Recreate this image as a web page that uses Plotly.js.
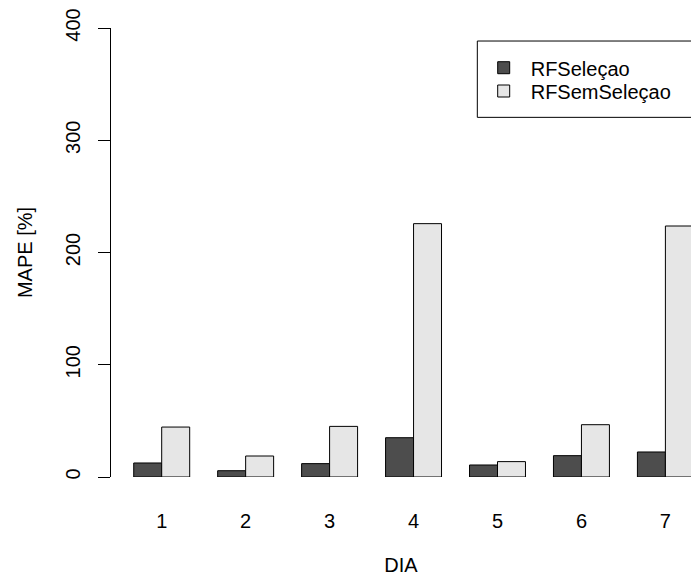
<!DOCTYPE html>
<html>
<head>
<meta charset="utf-8">
<script src="https://cdn.plot.ly/plotly-3.0.1.min.js"></script>
<style>html,body{margin:0;padding:0;background:#fff;}#chart{width:691px;height:576px;}</style>
</head>
<body>
<div id="chart"></div>
<script>
const days = [1, 2, 3, 4, 5, 6, 7];
const dayLabels = ["1", "2", "3", "4", "5", "6", "7"];
const rfSelecao = [12.5, 5.6, 11.9, 35.0, 10.7, 19.0, 22.3];
const rfSemSelecao = [44.5, 18.7, 45.1, 225.7, 13.7, 46.6, 223.6];
const seriesNames = ["RFSeleçao", "RFSemSeleçao"];
const yTicks = [0, 100, 200, 300, 400];

const font = "Liberation Sans, Arial, Helvetica, sans-serif";

const traces = [
  {type: "bar", x: days, y: rfSelecao, name: seriesNames[0], legend: "legend",
   marker: {color: "#4d4d4d", line: {color: "#000", width: 1}}, hoverinfo: "none"},
  {type: "bar", x: days, y: rfSemSelecao, name: seriesNames[1], legend: "legend2",
   marker: {color: "#e6e6e6", line: {color: "#000", width: 1}}, hoverinfo: "none"}
];

const legendBase = {
  xanchor: "left", yanchor: "top",
  bgcolor: "rgba(0,0,0,0)", borderwidth: 0,
  font: {size: 20}, itemwidth: 44
};

const layout = {
  width: 691, height: 576,
  margin: {l: 111, r: 0, t: 28, b: 99, pad: 0},
  paper_bgcolor: "#fff", plot_bgcolor: "#fff",
  font: {family: font, size: 20, color: "#000"},
  barmode: "group", bargap: 1/3, bargroupgap: 0,
  xaxis: {
    range: [0.396, 7.305], tickvals: days, ticktext: dayLabels,
    showline: false, showgrid: false, zeroline: false,
    ticks: "", ticklabelstandoff: 30,
    tickfont: {size: 20},
    title: {text: "DIA", font: {size: 20}, standoff: 27}
  },
  yaxis: {
    range: [0, 400], tickvals: yTicks, ticktext: yTicks.map(String),
    showline: true, linecolor: "#000", linewidth: 1,
    showgrid: false, zeroline: false,
    ticks: "outside", ticklen: 12, tickcolor: "#000", tickwidth: 1,
    tickangle: -90, tickfont: {size: 20}, ticklabelstandoff: 10,
    title: {text: "MAPE [%]", font: {size: 20}, standoff: 24}
  },
  showlegend: true,
  legend: Object.assign({}, legendBase, {x: 0.6305, y: 0.955}),
  legend2: Object.assign({}, legendBase, {x: 0.6305, y: 0.9031}),
  shapes: [{
    type: "rect", xref: "paper", yref: "paper",
    x0: 0.6316, x1: 1.1, y0: 0.801, y1: 0.971,
    line: {color: "#000", width: 1}, fillcolor: "rgba(0,0,0,0)"
  }]
};

Plotly.newPlot("chart", traces, layout, {displayModeBar: false, staticPlot: true});
</script>
</body>
</html>
